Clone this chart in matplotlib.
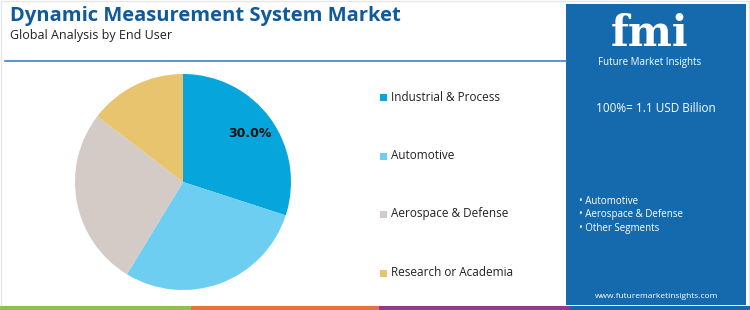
import matplotlib
matplotlib.use("Agg")
import matplotlib.pyplot as plt
from matplotlib.patches import Rectangle

segments = ["Industrial & Process", "Automotive", "Aerospace & Defense", "Research or Academia"]
shares = [30.0, 28.7, 26.7, 14.6]
colors = ["#06A5DB", "#6ECEF2", "#D5CBC6", "#E8C46F"]
shown_label = "30.0%"
total_text = "100%= 1.1 USD Billion"
other_segments = ["Automotive", "Aerospace & Defense", "Other Segments"]

W, H = 750, 310
fig = plt.figure(figsize=(7.5, 3.1), dpi=100)
fig.patch.set_facecolor("white")


def fx(x):
    return x / W


def fy(y):
    return 1 - y / H


# border frame
fig.add_artist(Rectangle((fx(1), fy(306)), fx(748), 305 / H, transform=fig.transFigure,
                         fill=False, edgecolor="#E6E6E6", linewidth=1))

# title + subtitle
fig.text(fx(10), fy(16), "Dynamic Measurement System Market", fontsize=14.5, fontweight="bold",
         color="#0E5A9A", family="Open Sans", va="center", ha="left")
fig.text(fx(10), fy(35), "Global Analysis by End User", fontsize=9, color="#222222",
         family="Open Sans", va="center", ha="left")
fig.add_artist(plt.Line2D([fx(5), fx(566)], [fy(61), fy(61)], transform=fig.transFigure,
                          color="#3F83C4", linewidth=1.2))

# pie
r = 110
ax = fig.add_axes([fx(183 - r), fy(182 + r), 2 * r / W, 2 * r / H])
wedges, texts = ax.pie(shares, colors=colors, startangle=90, counterclock=False,
                       radius=108 / r, wedgeprops=dict(linewidth=0))
ax.set_xlim(-1, 1)
ax.set_ylim(-1, 1)
ax.set_aspect("equal")
ax.axis("off")
ax.text(0.76 * 108 / r * 0.809, 0.76 * 108 / r * 0.588, shown_label, fontsize=9, fontweight="bold",
        ha="center", va="center", color="#111111", family="DejaVu Sans")

# legend
rows_y = [97, 156, 214, 273]
for seg, col, yy in zip(segments, colors, rows_y):
    fig.add_artist(Rectangle((fx(380), fy(yy + 3.5)), 7 / W, 7 / H, transform=fig.transFigure,
                             facecolor=col, edgecolor="none"))
    fig.text(fx(391), fy(yy), seg, fontsize=8.5, color="#222222", family="Open Sans",
             va="center", ha="left")

# right panel
fig.add_artist(Rectangle((fx(566), fy(305)), fx(180), 301 / H, transform=fig.transFigure,
                         facecolor="#156AAD", edgecolor="none"))
fig.text(fx(650), fy(34), "fmi", fontsize=30, fontweight="bold", color="white",
         family="DejaVu Serif", ha="center", va="center")
fig.text(fx(650), fy(63), "Future Market Insights", fontsize=7, color="white",
         family="Open Sans", ha="center", va="center")
fig.text(fx(656), fy(109), total_text, fontsize=8.5, color="white",
         family="Open Sans", ha="center", va="center")
for seg, yy in zip(other_segments, [201, 214, 229]):
    fig.text(fx(579), fy(yy), "\u2022 " + seg, fontsize=7, color="white",
             family="Open Sans", ha="left", va="center")
fig.text(fx(657), fy(296), "www.futuremarketinsights.com", fontsize=6, color="white",
         family="Open Sans", ha="center", va="center")

# bottom colour bar
for x0, x1, c in [(0, 191, "#8CC152"), (191, 379, "#E8703A"), (379, 570, "#8E3A8E"), (570, 750, "#156AAD")]:
    fig.add_artist(Rectangle((fx(x0), 0), fx(x1 - x0), 4 / H, transform=fig.transFigure,
                             facecolor=c, edgecolor="none"))

fig.savefig("out.png", dpi=100, facecolor="white")
